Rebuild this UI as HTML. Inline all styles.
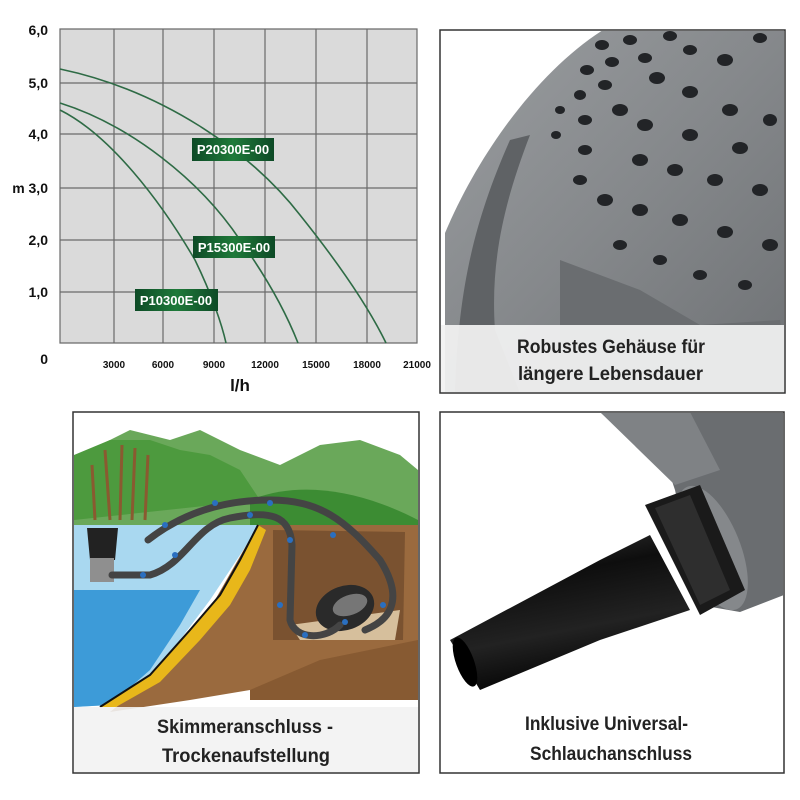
<!DOCTYPE html>
<html><head><meta charset="utf-8"><style>
html,body{margin:0;padding:0;background:#fff;width:800px;height:800px;overflow:hidden}
svg{display:block}
text{font-family:"Liberation Sans Narrow","Liberation Sans",sans-serif;font-weight:bold}
</style></head><body>
<svg width="800" height="800" viewBox="0 0 800 800">
<defs>
<linearGradient id="lab" x1="0" x2="1"><stop offset="0" stop-color="#0d4a26"/><stop offset=".5" stop-color="#1f7a3a"/><stop offset="1" stop-color="#0d4a26"/></linearGradient>
<linearGradient id="pump" x1="0" y1="0" x2="1" y2="1"><stop offset="0" stop-color="#9a9da0"/><stop offset=".5" stop-color="#85888b"/><stop offset="1" stop-color="#6e7174"/></linearGradient>
<linearGradient id="noz" x1="0" y1="0" x2="0.3" y2="1"><stop offset="0" stop-color="#3a3a3a"/><stop offset=".35" stop-color="#0e0e0e"/><stop offset=".7" stop-color="#222"/><stop offset="1" stop-color="#050505"/></linearGradient>
</defs>
<rect x="60" y="29" width="357" height="314" fill="#dadada"/>
<g stroke="#6a6a6a" stroke-width="1.2" fill="none">
<path d="M60 29H417V343H60Z"/>
<path d="M114 29V343M163 29V343M214 29V343M265 29V343M316 29V343M367 29V343"/>
<path d="M60 83H417M60 134H417M60 188H417M60 240H417M60 292H417"/>
</g>
<g stroke="#2e6b45" stroke-width="1.6" fill="none">
<path d="M60 69 C160 90 250 150 300 215 C340 265 370 310 386 343"/>
<path d="M60 103 C130 125 200 180 240 240 C265 275 285 310 298 343"/>
<path d="M60 110 C110 135 160 200 195 260 C212 295 222 325 226 343"/>
</g>
<rect x="192" y="138" width="82" height="23" fill="url(#lab)"/>
<rect x="193" y="236" width="82" height="22" fill="url(#lab)"/>
<rect x="135" y="289" width="83" height="22" fill="url(#lab)"/>
<g fill="#fff" font-size="13" text-anchor="middle">
<text x="233" y="154">P20300E-00</text><text x="234" y="252">P15300E-00</text><text x="176" y="305">P10300E-00</text>
</g>
<g font-size="14" fill="#111" text-anchor="end">
<text x="48" y="35">6,0</text><text x="48" y="88">5,0</text><text x="48" y="139">4,0</text>
<text x="48" y="193">m 3,0</text><text x="48" y="245">2,0</text><text x="48" y="297">1,0</text><text x="48" y="364">0</text>
</g>
<g font-size="10" fill="#111" text-anchor="middle">
<text x="114" y="368">3000</text><text x="163" y="368">6000</text><text x="214" y="368">9000</text><text x="265" y="368">12000</text><text x="316" y="368">15000</text><text x="367" y="368">18000</text><text x="417" y="368">21000</text>
</g>
<text x="240" y="391" font-size="17" text-anchor="middle" fill="#111">l/h</text>
<!-- top right -->
<rect x="440" y="30" width="345" height="363" fill="#fff"/>
<clipPath id="c1"><rect x="441" y="31" width="343" height="361"/></clipPath>
<g clip-path="url(#c1)">
<path d="M445 393 L445 233 C480 150 540 70 603 30 L790 30 L790 393Z" fill="url(#pump)"/>
<path d="M455 393 C458 300 470 230 510 140 L530 135 C505 200 490 260 495 330 L520 393Z" fill="#5f6265"/>
<path d="M560 260 L640 290 L700 325 L780 320 L790 393 L560 393Z" fill="#6a6d70"/>
<g fill="#222427">
<ellipse cx="602" cy="45" rx="7" ry="5"/><ellipse cx="630" cy="40" rx="7" ry="5"/><ellipse cx="670" cy="36" rx="7" ry="5"/><ellipse cx="760" cy="38" rx="7" ry="5"/>
<ellipse cx="587" cy="70" rx="7" ry="5"/><ellipse cx="612" cy="62" rx="7" ry="5"/><ellipse cx="645" cy="58" rx="7" ry="5"/><ellipse cx="690" cy="50" rx="7" ry="5"/><ellipse cx="725" cy="60" rx="8" ry="6"/>
<ellipse cx="580" cy="95" rx="6" ry="5"/><ellipse cx="605" cy="85" rx="7" ry="5"/><ellipse cx="657" cy="78" rx="8" ry="6"/><ellipse cx="690" cy="92" rx="8" ry="6"/><ellipse cx="730" cy="110" rx="8" ry="6"/><ellipse cx="770" cy="120" rx="7" ry="6"/>
<ellipse cx="560" cy="110" rx="5" ry="4"/><ellipse cx="585" cy="120" rx="7" ry="5"/><ellipse cx="620" cy="110" rx="8" ry="6"/><ellipse cx="645" cy="125" rx="8" ry="6"/><ellipse cx="690" cy="135" rx="8" ry="6"/><ellipse cx="740" cy="148" rx="8" ry="6"/>
<ellipse cx="556" cy="135" rx="5" ry="4"/><ellipse cx="585" cy="150" rx="7" ry="5"/><ellipse cx="640" cy="160" rx="8" ry="6"/><ellipse cx="675" cy="170" rx="8" ry="6"/><ellipse cx="715" cy="180" rx="8" ry="6"/><ellipse cx="760" cy="190" rx="8" ry="6"/>
<ellipse cx="580" cy="180" rx="7" ry="5"/><ellipse cx="605" cy="200" rx="8" ry="6"/><ellipse cx="640" cy="210" rx="8" ry="6"/><ellipse cx="680" cy="220" rx="8" ry="6"/><ellipse cx="725" cy="232" rx="8" ry="6"/><ellipse cx="770" cy="245" rx="8" ry="6"/>
<ellipse cx="620" cy="245" rx="7" ry="5"/><ellipse cx="660" cy="260" rx="7" ry="5"/><ellipse cx="700" cy="275" rx="7" ry="5"/><ellipse cx="745" cy="285" rx="7" ry="5"/>
</g>
<rect x="441" y="325" width="343" height="68" fill="#f2f2f2" opacity=".93"/>
</g>
<rect x="440" y="30" width="345" height="363" fill="none" stroke="#333" stroke-width="1.5"/>
<text x="517" y="353" font-size="19" fill="#222" textLength="188" lengthAdjust="spacingAndGlyphs">Robustes Gehäuse für</text>
<text x="518" y="380" font-size="19" fill="#222" textLength="185" lengthAdjust="spacingAndGlyphs">längere Lebensdauer</text>
<!-- bottom left -->
<rect x="73" y="412" width="346" height="361" fill="#fff"/>
<clipPath id="c2"><rect x="74" y="413" width="344" height="359"/></clipPath>
<g clip-path="url(#c2)">
<path d="M74 460 L100 445 L130 430 L170 440 L200 430 L240 450 L280 465 L320 445 L360 440 L400 455 L418 470 L418 540 L74 540Z" fill="#6aa85a"/>
<path d="M74 455 L110 440 L150 440 L180 450 L210 455 L240 470 L260 500 L74 520Z" fill="#4d9a3e"/>
<path d="M250 500 C300 480 360 490 418 520 L418 530 L250 530Z" fill="#3c8c33"/>
<g stroke="#8a5a30" stroke-width="3"><path d="M110 520 L105 450M120 520 L122 445M132 520 L135 448M145 520 L148 455M95 520 L92 465"/></g>
<path d="M74 525 L260 525 L250 540 L230 570 L210 600 L180 640 L150 680 L110 705 L74 707Z" fill="#a9d8f0"/>
<path d="M74 590 L200 590 L180 625 L150 670 L110 705 L74 707Z" fill="#3d9bd8"/>
<path d="M258 525 L418 525 L418 670 L380 690 L320 700 L250 690 L190 700 L110 712 L150 680 L190 630 L215 600 L235 565Z" fill="#9a6a3e"/>
<path d="M250 690 L320 660 L418 640 L418 700 L250 700Z" fill="#875a32"/>
<path d="M258 525 L240 560 L220 595 L190 630 L150 675 L100 707 L116 707 L160 682 L200 640 L230 605 L250 570 L266 530Z" fill="#e8b71a"/>
<path d="M258 525 L240 560 L220 595 L190 630 L150 675 L100 707" stroke="#111" stroke-width="2" fill="none"/>
<path d="M273 530 L405 532 L403 640 L273 640Z" fill="#7a5230"/>
<path d="M290 625 L400 610 L395 640 L300 640Z" fill="#d6bf9c"/>
<ellipse cx="345" cy="608" rx="30" ry="22" fill="#2a2a2a" transform="rotate(-20 345 608)"/>
<ellipse cx="350" cy="605" rx="18" ry="10" fill="#aaa" opacity=".6" transform="rotate(-20 350 605)"/>
<path d="M87 528 L118 528 L115 560 L90 560Z" fill="#222"/><rect x="90" y="558" width="24" height="24" fill="#8f8f8f"/>
<g stroke="#444" stroke-width="7" fill="none" stroke-linecap="round">
<path d="M112 575 L150 575 C185 565 195 525 230 518 C270 510 290 515 292 545 L290 620 C295 640 325 640 340 625"/>
<path d="M148 540 C180 515 220 500 270 500 C320 500 345 520 380 560 C405 600 390 620 365 630"/>
</g>
<g fill="#2a6fc0">
<circle cx="215" cy="503" r="3"/><circle cx="270" cy="503" r="3"/><circle cx="250" cy="515" r="3"/><circle cx="165" cy="525" r="3"/><circle cx="290" cy="540" r="3"/><circle cx="333" cy="535" r="3"/><circle cx="280" cy="605" r="3"/><circle cx="383" cy="605" r="3"/><circle cx="345" cy="622" r="3"/><circle cx="305" cy="635" r="3"/><circle cx="143" cy="575" r="3"/><circle cx="175" cy="555" r="3"/>
</g>
<rect x="74" y="707" width="344" height="66" fill="#f2f2f2" opacity=".9"/>
</g>
<rect x="73" y="412" width="346" height="361" fill="none" stroke="#333" stroke-width="1.5"/>
<text x="157" y="733" font-size="19" fill="#222" textLength="176" lengthAdjust="spacingAndGlyphs">Skimmeranschluss -</text>
<text x="162" y="762" font-size="19" fill="#222" textLength="168" lengthAdjust="spacingAndGlyphs">Trockenaufstellung</text>
<!-- bottom right -->
<rect x="440" y="412" width="344" height="361" fill="#fff"/>
<clipPath id="c3"><rect x="441" y="413" width="342" height="359"/></clipPath>
<g clip-path="url(#c3)">
<path d="M600 412 L784 412 L784 595 L740 612 L700 605 L675 490 L670 475 Z" fill="#6a6d70"/>
<path d="M600 412 L690 412 L720 470 L675 485Z" fill="#7f8285"/>
<ellipse cx="712" cy="548" rx="28" ry="66" fill="#85888b" transform="rotate(-22 712 548)"/>
<path d="M645 505 L700 485 L745 590 L700 615 Z" fill="#1a1a1a"/>
<path d="M655 508 L690 495 L730 590 L700 605Z" fill="#2e2e2e"/>
<path d="M450 640 L600 560 L650 535 L690 610 L600 640 L480 690Z" fill="url(#noz)"/>
<ellipse cx="465" cy="662" rx="9" ry="26" fill="#000" transform="rotate(-20 465 662)"/>
</g>
<rect x="440" y="412" width="344" height="361" fill="none" stroke="#333" stroke-width="1.5"/>
<text x="525" y="730" font-size="19" fill="#222" textLength="163" lengthAdjust="spacingAndGlyphs">Inklusive Universal-</text>
<text x="530" y="760" font-size="19" fill="#222" textLength="162" lengthAdjust="spacingAndGlyphs">Schlauchanschluss</text>
</svg>
</body></html>
